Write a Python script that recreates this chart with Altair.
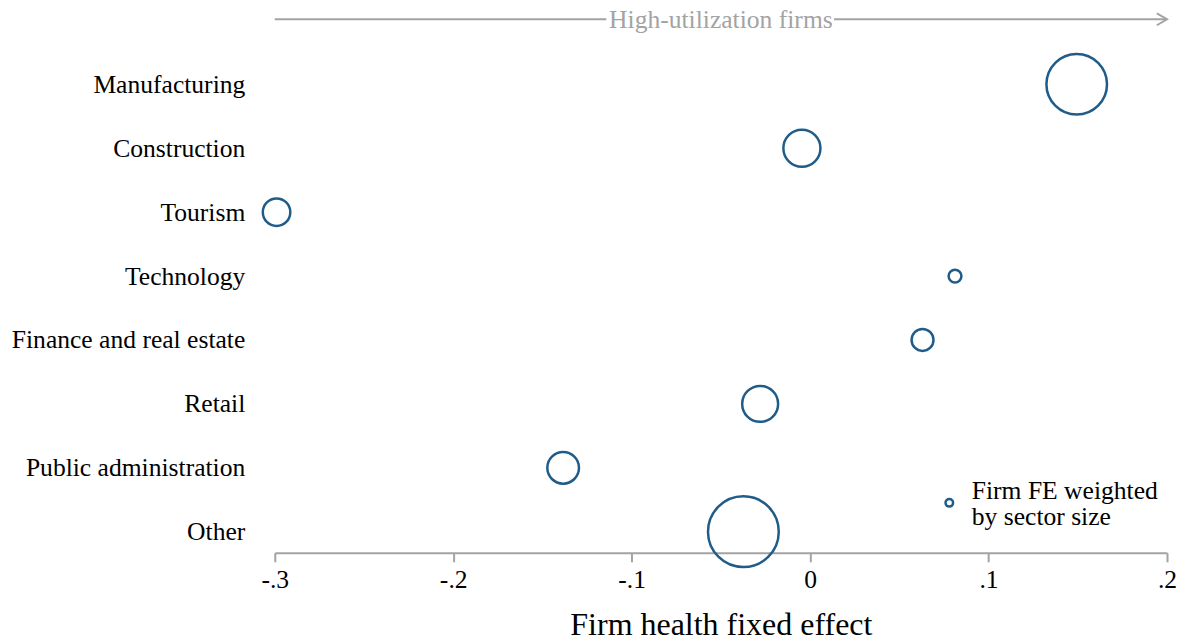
import altair as alt
import pandas as pd

sectors = ["Manufacturing", "Construction", "Tourism", "Technology",
           "Finance and real estate", "Retail", "Public administration", "Other"]
firm_fe = [0.1494, -0.0046, -0.2990, 0.0812, 0.0630, -0.0280, -0.1384, -0.0374]
sector_share = [26.7, 10.0, 5.5, 1.2, 3.5, 9.4, 7.3, 36.4]

tick_values = [-0.3, -0.2, -0.1, 0.0, 0.1, 0.2]
tick_labels = ["-.3", "-.2", "-.1", "0", ".1", ".2"]

arrow_label = "High-utilization firms"
arrow_start = [-0.3, 0.0134]
arrow_end = [-0.1142, 0.2]
legend_lines = ["Firm FE weighted", "by sector size"]

FONT = "Liberation Serif"
BLUE = "#1f5c89"
GRAY = "#a3a3a3"

df = pd.DataFrame({"sector": sectors, "fe": firm_fe, "share": sector_share})

xscale = alt.Scale(domain=[-0.3, 0.2], nice=False, zero=False)
label_expr = "[" + ",".join(f"'{t}'" for t in tick_labels) + "][round(datum.value*10)+3]"

points = alt.Chart(df).mark_point(filled=False, strokeWidth=2.5, color=BLUE, opacity=1).encode(
    x=alt.X("fe:Q", scale=xscale,
            axis=alt.Axis(values=tick_values, labelExpr=label_expr, title="Firm health fixed effect",
                          grid=False, domainColor=GRAY, domainWidth=2, tickColor=GRAY, tickWidth=2,
                          tickSize=9, labelPadding=6, labelFontSize=25.6, labelFont=FONT,
                          labelColor="black", titleFont=FONT, titleFontSize=32, titleFontWeight="normal",
                          titleColor="black", titlePadding=16, labelFlush=False)),
    y=alt.Y("sector:N", sort=sectors, scale=alt.Scale(type="point", padding=0.33),
            axis=alt.Axis(title=None, domain=False, ticks=False, labelPadding=30, labelFontSize=25.6,
                          labelFont=FONT, labelColor="black", labelLimit=400)),
    size=alt.Size("share:Q", scale=alt.Scale(domain=[0, 36.4], range=[0, 5013]), legend=None),
)

arrow_df = pd.DataFrame({"x": arrow_start, "x2": arrow_end})
arrow = alt.Chart(arrow_df).mark_rule(color=GRAY, strokeWidth=2).encode(
    x=alt.X("x:Q", scale=xscale), x2="x2:Q", y=alt.value(-44)
)
arrow_head = alt.Chart(pd.DataFrame({"x": [0.2]})).mark_point(
    shape="M-1.7,-1L0,0L-1.7,1", filled=False, color=GRAY, strokeWidth=2, size=144, opacity=1
).encode(x=alt.X("x:Q", scale=xscale), y=alt.value(-44))
arrow_text = alt.Chart(pd.DataFrame({"x": [-0.05], "t": [arrow_label]})).mark_text(
    font=FONT, fontSize=25.6, color=GRAY, baseline="middle", align="center"
).encode(x=alt.X("x:Q", scale=xscale), y=alt.value(-43), text="t:N")

legend_pt = alt.Chart(pd.DataFrame({"x": [0.078]})).mark_point(
    filled=False, strokeWidth=2.5, color=BLUE, size=57, opacity=1
).encode(x=alt.X("x:Q", scale=xscale), y=alt.value(440))
legend_txt = alt.Chart(pd.DataFrame({"x": [0.0906]})).mark_text(
    font=FONT, fontSize=25.6, color="black", align="left", baseline="middle",
    lineHeight=26, text=legend_lines
).encode(x=alt.X("x:Q", scale=xscale), y=alt.value(428))

chart = alt.layer(arrow, arrow_head, arrow_text, legend_pt, legend_txt, points).properties(
    width=893, height=490,
    autosize=alt.AutoSizeParams(type="none"),
    padding={"left": 267, "top": 55, "right": 10, "bottom": 90},
    background="white",
).configure_view(stroke=None)

chart.save("out.html", embed_options={"renderer": "svg", "actions": False})
